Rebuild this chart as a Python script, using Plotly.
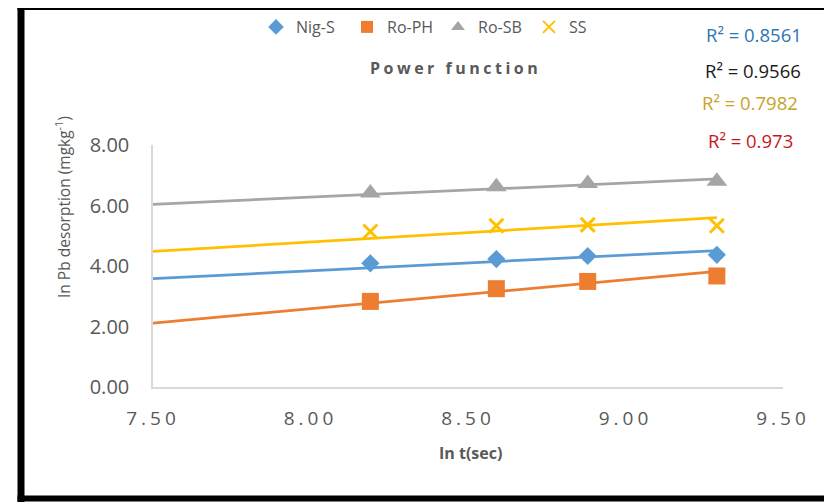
import plotly.graph_objects as go

# ---------------- data ----------------
series_names = ["Nig-S", "Ro-PH", "Ro-SB", "SS"]
ln_t = [8.19, 8.59, 8.88, 9.29]

nig_s = [4.09, 4.23, 4.33, 4.37]
ro_ph = [2.83, 3.25, 3.49, 3.67]
ro_sb = [6.41, 6.62, 6.73, 6.80]
ss = [5.14, 5.33, 5.36, 5.33]

# power-function trendlines (value at the axis start and at the last point)
trend_x = [7.50, 9.29]
trend_nig_s = [3.58, 4.51]
trend_ro_ph = [2.11, 3.82]
trend_ro_sb = [6.04, 6.88]
trend_ss = [4.48, 5.60]

r2_labels = ["R² = 0.8561", "R² = 0.9566", "R² = 0.7982", "R² = 0.973"]

x_tickvals = [7.50, 8.00, 8.50, 9.00, 9.50]
x_ticktext = ["7.50", "8.00", "8.50", "9.00", "9.50"]
y_tickvals = [0, 2, 4, 6, 8]
y_ticktext = ["0.00", "2.00", "4.00", "6.00", "8.00"]

# ---------------- styling ----------------
colors = ["#5B9BD5", "#ED7D31", "#A5A5A5", "#FFC000"]
r2_colors = ["#2E75B6", "#1A1A1A", "#C9A22A", "#C8161E"]
symbols = ["diamond", "square", "triangle-up", "x-thin-open"]
sizes = [14, 17, 18, 14]
FONT = "Open Sans, Noto Sans, sans-serif"
GREY = "#595959"

# the page body adds an 8px offset; the figure is sized to compensate
OFF = 8
W, H = 832 - OFF, 503 - OFF
PLOT_L, PLOT_R, PLOT_T, PLOT_B = 153, 783, 145, 387   # pixel positions in the screenshot
L, T = PLOT_L - OFF, PLOT_T - OFF
R, B = W - (PLOT_R - OFF), H - (PLOT_B - OFF)
PW, PH = W - L - R, H - T - B


def px(x):
    return (x - OFF - L) / PW


def py(y):
    return (H - B - (y - OFF)) / PH


values = [nig_s, ro_ph, ro_sb, ss]
trends = [trend_nig_s, trend_ro_ph, trend_ro_sb, trend_ss]

fig = go.Figure()

for name, tr, c in zip(series_names, trends, colors):
    fig.add_trace(go.Scatter(x=trend_x, y=tr, mode="lines",
                             line=dict(color=c, width=2.75),
                             showlegend=False, hoverinfo="skip"))

for name, v, c, s, sz in zip(series_names, values, colors, symbols, sizes):
    if s == "x-thin-open":
        marker = dict(symbol=s, size=sz, color=c, line=dict(color=c, width=3))
    else:
        marker = dict(symbol=s, size=sz, color=c, line=dict(width=0))
    fig.add_trace(go.Scatter(x=ln_t, y=v, mode="markers", name=name,
                             marker=marker))

annotations = []
# title
annotations.append(dict(
    text='<span style="letter-spacing:3.5px"><b>Power function</b></span>',
    x=px(455), y=py(68), xref="paper", yref="paper",
    showarrow=False, font=dict(family=FONT, size=16, color=GREY),
    xanchor="center", yanchor="middle"))
# R² labels
r2_pos = [(754, 35), (753, 70), (750, 103), (750, 140)]
for t, c, (ax, ay) in zip(r2_labels, r2_colors, r2_pos):
    annotations.append(dict(text=t, x=px(ax), y=py(ay), xref="paper", yref="paper",
                            showarrow=False, xanchor="center", yanchor="middle",
                            font=dict(family=FONT, size=18.5, color=c)))
# axis titles
annotations.append(dict(text="In Pb desorption (mgkg<sup>-1</sup>)",
                        x=px(63), y=py(207), xref="paper", yref="paper",
                        textangle=-90, showarrow=False,
                        xanchor="center", yanchor="middle",
                        font=dict(family=FONT, size=15.5, color=GREY)))
annotations.append(dict(text="<b>In t(sec)</b>",
                        x=px(470), y=py(453), xref="paper", yref="paper",
                        showarrow=False, xanchor="center", yanchor="middle",
                        font=dict(family=FONT, size=16, color=GREY)))

shapes = [
    # frame
    dict(type="line", xref="paper", yref="paper", x0=px(21), x1=px(21),
         y0=py(4), y1=py(502), line=dict(color="black", width=7)),
    dict(type="line", xref="paper", yref="paper", x0=px(17.5), x1=px(840),
         y0=py(7), y1=py(7), line=dict(color="black", width=6)),
    dict(type="line", xref="paper", yref="paper", x0=px(17.5), x1=px(840),
         y0=py(498.5), y1=py(498.5), line=dict(color="black", width=6)),
    dict(type="line", xref="paper", yref="paper", x0=px(830.5), x1=px(830.5),
         y0=py(10), y1=py(495), line=dict(color="#8C8C8C", width=1)),
]

fig.update_layout(
    width=W, height=H,
    margin=dict(l=L, r=R, t=T, b=B, autoexpand=False),
    paper_bgcolor="white", plot_bgcolor="white",
    font=dict(family=FONT, color=GREY),
    showlegend=True,
    legend=dict(orientation="h", x=px(256), y=py(27), xanchor="left",
                yanchor="middle", font=dict(family=FONT, size=16, color=GREY),
                itemsizing="constant", bgcolor="rgba(0,0,0,0)",
                entrywidth=46, entrywidthmode="pixels",
                tracegroupgap=0),
    annotations=annotations,
    shapes=shapes,
)

fig.update_xaxes(range=[7.5, 9.5], tickvals=x_tickvals,
                 ticktext=['<span style="letter-spacing:4px">%s</span>' % t for t in x_ticktext],
                 showgrid=False, zeroline=False, showline=True,
                 linecolor="#D9D9D9", linewidth=1.5,
                 ticks="outside", ticklen=13, tickcolor="rgba(0,0,0,0)",
                 tickfont=dict(family=FONT, size=19, color=GREY))
fig.update_yaxes(range=[0, 8], tickvals=y_tickvals, ticktext=y_ticktext,
                 showgrid=False, zeroline=False, showline=True,
                 linecolor="#D9D9D9", linewidth=1.5,
                 ticks="outside", ticklen=18, tickcolor="rgba(0,0,0,0)",
                 tickfont=dict(family=FONT, size=20, color=GREY))

fig.write_html("out.html")
